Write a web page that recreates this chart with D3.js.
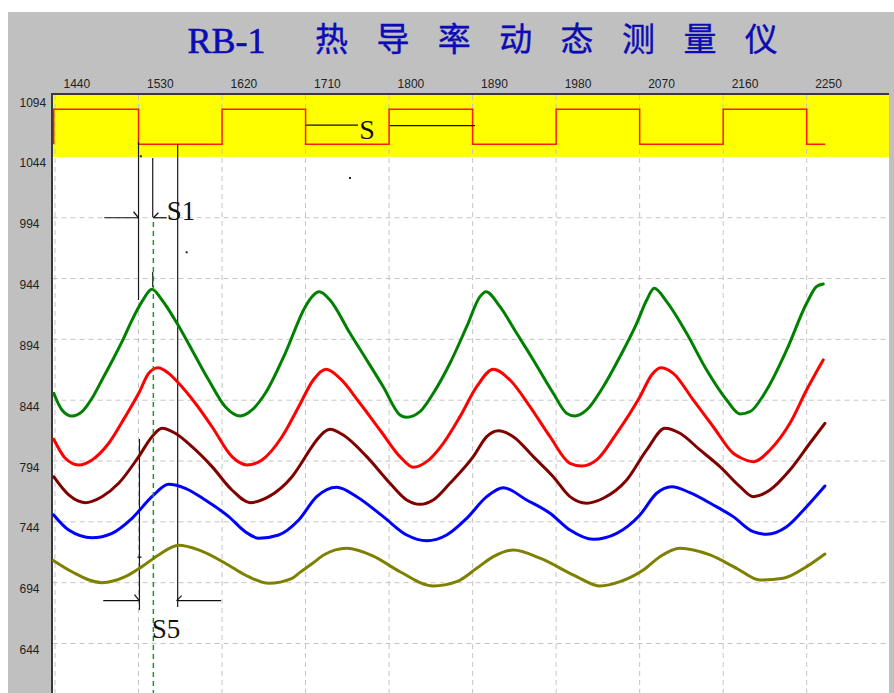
<!DOCTYPE html>
<html><head><meta charset="utf-8">
<script src="https://cdn.jsdelivr.net/npm/d3@7"></script>
<style>html,body{margin:0;padding:0;background:#fff;overflow:hidden}</style>
</head><body><svg id="c" width="894" height="693"></svg>
<script>
// ---------- data ----------
const titleLatin = "RB-1";
const titleCJK = "热导率动态测量仪";
const xTicks = [1440,1530,1620,1710,1800,1890,1980,2070,2160,2250];
const yTicks = [1094,1044,994,944,894,844,794,744,694,644];
const gridY = [994,944,894,844,794,744,694,644];

const squareWave = [[1438.6,1054.4],[1438.6,1083.1],[1530,1054.4],[1620,1083.1],[1710,1054.4],[1800,1083.1],[1890,1054.4],[1980,1083.1],[2070,1054.4],[2160,1083.1],[2250,1054.4],[2270,1054.4]];

const greenSeries = [[1438.6,849.7],[1447.5,836],[1458.3,831],[1469.1,834.6],[1479.9,845.6],[1490.6,860.6],[1501.4,876],[1512.2,892.1],[1523,909.9],[1533.7,925],[1544.5,935.2],[1555.3,926.4],[1571.5,907.2],[1587.6,885.3],[1605.6,860.6],[1623.5,838.7],[1639.7,831],[1652.3,836],[1666.6,849.7],[1688.1,882.6],[1709.7,920.9],[1716.9,929.1],[1724.8,933.2],[1736.3,926.4],[1757.9,899],[1775.9,877.1],[1793.7,855.1],[1811.7,831.9],[1818.9,830],[1833.3,834.6],[1847.6,849.7],[1865.6,874.4],[1883.6,904.4],[1897.9,929.1],[1904.4,933.2],[1919.5,920.9],[1937.5,899],[1955.4,877.1],[1976.9,849.7],[1991.3,833.3],[2000.3,831],[2012.9,836],[2030.8,855.1],[2048.8,879.8],[2066.8,907.2],[2077.6,926.4],[2085.7,936],[2099.1,925],[2120.6,899],[2142.2,868.8],[2163.7,844.2],[2178.1,832.7],[2188.9,834.6],[2206.8,852.4],[2228.4,885.3],[2249.9,923.7],[2260.7,937.5],[2267.8,939.5]];

const redSeries = [[1438.6,811.9],[1451.1,796.3],[1465.5,790.8],[1479.9,794.9],[1497.9,808.6],[1515.7,830.5],[1530.2,849.7],[1541,866.1],[1551,870.7],[1562.5,866.1],[1573.3,857.9],[1591.2,841.5],[1609.2,822.2],[1630.7,797.6],[1646.9,790.8],[1663,794.9],[1684.6,814],[1702.6,838.7],[1718.3,860.6],[1732,869.4],[1747.1,862],[1768.6,841.5],[1790.2,819.5],[1811.7,797.6],[1826.1,788.9],[1840.5,793.5],[1858.4,808.6],[1876.4,830.5],[1894.4,855.1],[1912.3,869.4],[1930.3,860.6],[1951.8,838.7],[1973.4,814],[1994.9,792.1],[2007.5,789.9],[2023.7,794.9],[2045.2,816.8],[2070.3,846.9],[2082.9,864.7],[2092.6,870.7],[2106.2,866.1],[2127.7,844.2],[2149.3,822.2],[2170.8,800.4],[2179.9,796.3],[2192.4,793.5],[2210.4,803.1],[2231.9,825],[2249.9,852.4],[2267.8,877.1]];

const maroonSeries = [[1438.6,781.1],[1454.8,766.1],[1472.6,759.8],[1490.6,764.7],[1508.6,775.7],[1530.2,797.6],[1544.5,814],[1555.3,820.9],[1569.6,816.8],[1587.6,805.8],[1609.2,789.4],[1630.7,770.2],[1650.4,759.8],[1670.3,764.7],[1695.4,781.1],[1716.9,805.8],[1722,811.3],[1736.3,820.1],[1750.6,815.4],[1775.9,797.6],[1801,775.7],[1819,762],[1833.3,758.4],[1847.6,762],[1865.6,775.7],[1890.7,797.6],[1905.2,814],[1917.7,818.9],[1933.8,814],[1955.4,797.6],[1976.9,781.1],[1994.9,764.7],[2012.9,759.3],[2030.8,763.4],[2056,778.4],[2077.6,803.1],[2097.3,820.9],[2113.4,816.8],[2135,803.1],[2156.5,789.4],[2178.1,772.9],[2192.4,764.7],[2210.4,770.2],[2231.9,786.6],[2253.4,808.6],[2269.6,825]];

const blueSeries = [[1438.6,749.7],[1454.8,737.3],[1479.9,731],[1501.4,734.6],[1523,746.9],[1544.5,764.7],[1562.5,774.9],[1580.4,771.6],[1601.9,762],[1627.2,748.3],[1645,735.9],[1659.5,730.5],[1681,733.2],[1702.6,745.5],[1722,764.7],[1743.5,772.4],[1765.1,764.7],[1793.7,748.3],[1819,733.2],[1840.5,728.5],[1862,733.2],[1883.6,746.9],[1905.2,764.7],[1923,772.1],[1948.2,762],[1973.4,751.1],[1994.9,737.3],[2020,729.7],[2045.2,734.6],[2070.3,749.7],[2088.3,767.5],[2104.5,772.9],[2124.2,768],[2149.3,757.9],[2170.8,748.3],[2192.4,735.9],[2206.8,733.8],[2228.4,740],[2249.9,756.5],[2269.6,773.5]];

const oliveSeries = [[1438.6,712.1],[1458.3,703],[1490.6,694],[1515.7,698.9],[1533.7,707.2],[1551.7,716.8],[1573.3,724.7],[1594.8,720.9],[1623.5,710],[1645,700.3],[1670.3,693.5],[1695.4,697.6],[1704,702.5],[1716.9,709.5],[1730,717],[1754.3,722.3],[1783,715.9],[1811.7,703],[1847.6,691.3],[1872.8,694.8],[1894.4,705.8],[1912.3,715.4],[1933.8,720.9],[1962.6,714.1],[1994.9,701.7],[2005.7,697.6],[2027.2,691.3],[2048.8,694.8],[2073.9,704.4],[2091.9,715.4],[2113.4,722.3],[2145.8,716.8],[2174.5,705.8],[2199.6,696.2],[2224.7,697.6],[2249.9,707.2],[2269.6,717.6]];

const seriesColors = ["#008000","#ff0000","#800000","#0000ff","#808000"];

// annotation geometry (data units)
const markerLines = [
  {x:1530, v1:1056.5, v2:926.4},
  {x:1545.3, v1:1043.1, v2:994.6},
  {x:1545.3, v1:949.4, v2:937},
  {x:1572.2, v1:1054.4, v2:674},
  {x:1531, v1:812.1, v2:671.6}
];
const phaseLine = {x:1546, v1:990.5, v2:600};
const arrowsRight = [ {x1:1493.1, x2:1530, v:994}, {x1:1492, x2:1531, v:679.2} ];
const arrowsLeft  = [ {x1:1546, x2:1560.4, v:994}, {x1:1571.1, x2:1619, v:679.2} ];
const sLines = [ {x1:1710.5, x2:1766.5, v:1070.2}, {x1:1801, x2:1892.6, v:1069.8} ];
const labels = [ {t:"S1", x:1560.4, v:992, s:27}, {t:"S5", x:1544.2, v:648.5, s:27}, {t:"S", x:1767.9, v:1058.7, s:28} ];
const specks = [[1757.9,1026.7],[1581.9,965.6],[1532.5,1044.5]];

// ---------- drawing ----------
const svg = d3.select("#c");
const x = d3.scaleLinear().domain([1440,2250]).range([55,806.7]);
const y = d3.scaleLinear().domain([1094,644]).range([96.1,643.5]);
const plotL = 52.5, plotR = 889, plotT = 95, plotB = 693;

svg.append("rect").attr("x",0).attr("y",0).attr("width",894).attr("height",693).attr("fill","#fff");
svg.append("rect").attr("x",8).attr("y",12).attr("width",886).attr("height",681).attr("fill","#c0c0c0");
svg.append("rect").attr("x",plotL).attr("y",plotT).attr("width",plotR-plotL).attr("height",plotB-plotT).attr("fill","#fff");
svg.append("rect").attr("x",plotL).attr("y",plotT).attr("width",plotR-plotL).attr("height",y(1044)-plotT).attr("fill","#ffff00");

// grid
svg.append("g").selectAll("line").data(xTicks).join("line")
  .attr("x1",d=>x(d)).attr("x2",d=>x(d)).attr("y1",plotT).attr("y2",plotB)
  .attr("stroke","#c4c4c4").attr("stroke-width",1).attr("stroke-dasharray","5,4");
svg.append("g").selectAll("line").data(gridY).join("line")
  .attr("x1",plotL).attr("x2",plotR).attr("y1",d=>y(d)).attr("y2",d=>y(d))
  .attr("stroke","#c4c4c4").attr("stroke-width",1).attr("stroke-dasharray","5,4");

// borders
svg.append("line").attr("x1",51).attr("x2",plotR).attr("y1",94).attr("y2",94).attr("stroke","#3a3a3a").attr("stroke-width",2);
svg.append("line").attr("x1",52).attr("x2",52).attr("y1",93).attr("y2",plotB).attr("stroke","#3a3a3a").attr("stroke-width",2);

// axes labels
const fontAxis = "'Liberation Sans', Arial, sans-serif";
const gx = svg.append("g").attr("transform","translate(0,88)")
  .call(d3.axisTop(x).tickValues(xTicks).tickSize(0).tickFormat(d3.format("d")));
gx.select(".domain").remove();
gx.selectAll("text").attr("x",8).attr("y",0).attr("dy",null)
  .attr("text-anchor","start").attr("fill","#222")
  .style("font-family",fontAxis).style("font-size","12px");

const gy = svg.append("g").attr("transform","translate(19.5,0)")
  .call(d3.axisLeft(y).tickValues(yTicks).tickSize(0).tickFormat(d3.format("d")));
gy.select(".domain").remove();
gy.selectAll("text").attr("x",0).attr("y",10).attr("dy",null)
  .attr("text-anchor","start").attr("fill","#222")
  .style("font-family",fontAxis).style("font-size","12px");

// square wave
const lineGen = d3.line().x(d=>x(d[0])).y(d=>y(d[1]));
svg.append("path").datum(squareWave)
  .attr("d", lineGen.curve(d3.curveStepAfter))
  .attr("fill","none").attr("stroke","#ff1a00").attr("stroke-width",1.5);

// annotation lines (under curves)
svg.append("g").selectAll("line").data(markerLines).join("line")
  .attr("x1",d=>x(d.x)).attr("x2",d=>x(d.x)).attr("y1",d=>y(d.v1)).attr("y2",d=>y(d.v2))
  .attr("stroke","#1a1a1a").attr("stroke-width",1.2);

// curves
const curveGen = d3.line().x(d=>x(d[0])).y(d=>y(d[1])).curve(d3.curveMonotoneX);
[greenSeries, redSeries, maroonSeries, blueSeries, oliveSeries].forEach((s,i)=>{
  svg.append("path").datum(s).attr("d",curveGen)
    .attr("fill","none").attr("stroke",seriesColors[i]).attr("stroke-width",3)
    .attr("stroke-linejoin","round").attr("stroke-linecap","round");
});

// phase line (green dashed)
svg.append("line").attr("x1",x(phaseLine.x)).attr("x2",x(phaseLine.x))
  .attr("y1",y(phaseLine.v1)).attr("y2",y(phaseLine.v2))
  .attr("stroke","#1a9a1a").attr("stroke-width",1.5).attr("stroke-dasharray","5,4");

// arrows
const ag = svg.append("g").attr("stroke","#111").attr("stroke-width",1.2).attr("fill","none");
arrowsRight.forEach(a=>{
  ag.append("line").attr("x1",x(a.x1)).attr("x2",x(a.x2)).attr("y1",y(a.v)).attr("y2",y(a.v));
  ag.append("line").attr("x1",x(a.x2)-5).attr("y1",y(a.v)-6).attr("x2",x(a.x2)).attr("y2",y(a.v));
});
arrowsLeft.forEach(a=>{
  ag.append("line").attr("x1",x(a.x1)).attr("x2",x(a.x2)).attr("y1",y(a.v)).attr("y2",y(a.v));
  ag.append("line").attr("x1",x(a.x1)).attr("y1",y(a.v)).attr("x2",x(a.x1)+5).attr("y2",y(a.v)-5);
});
sLines.forEach(a=>{
  ag.append("line").attr("x1",x(a.x1)).attr("x2",x(a.x2)).attr("y1",y(a.v)).attr("y2",y(a.v));
});
ag.append("line").attr("x1",x(1531)-2).attr("x2",x(1531)+2).attr("y1",y(715)).attr("y2",y(715));
svg.append("g").selectAll("rect").data(specks).join("rect")
  .attr("x",d=>x(d[0])-1).attr("y",d=>y(d[1])-1).attr("width",2).attr("height",2).attr("fill","#222");

// labels
svg.append("g").selectAll("text").data(labels).join("text")
  .attr("x",d=>x(d.x)).attr("y",d=>y(d.v)).text(d=>d.t)
  .attr("fill","#111").style("font-family","'Liberation Serif','Times New Roman',serif")
  .style("font-size",d=>d.s+"px");

// title
svg.append("text").attr("x",187.5).attr("y",52.5).text(titleLatin)
  .attr("fill","#0c0cb4").attr("stroke","#0c0cb4").attr("stroke-width",0.6)
  .attr("textLength",78).attr("lengthAdjust","spacingAndGlyphs")
  .style("font-family","'Liberation Serif','Times New Roman',serif")
  .style("font-size","36px");
svg.append("text").attr("x",315).attr("y",51).text(titleCJK)
  .attr("fill","#0c0cb4").attr("stroke","#0c0cb4").attr("stroke-width",0.4)
  .style("font-family","'Noto Sans CJK SC',sans-serif")
  .style("font-size","33px").style("letter-spacing","28.4px");
</script></body></html>
